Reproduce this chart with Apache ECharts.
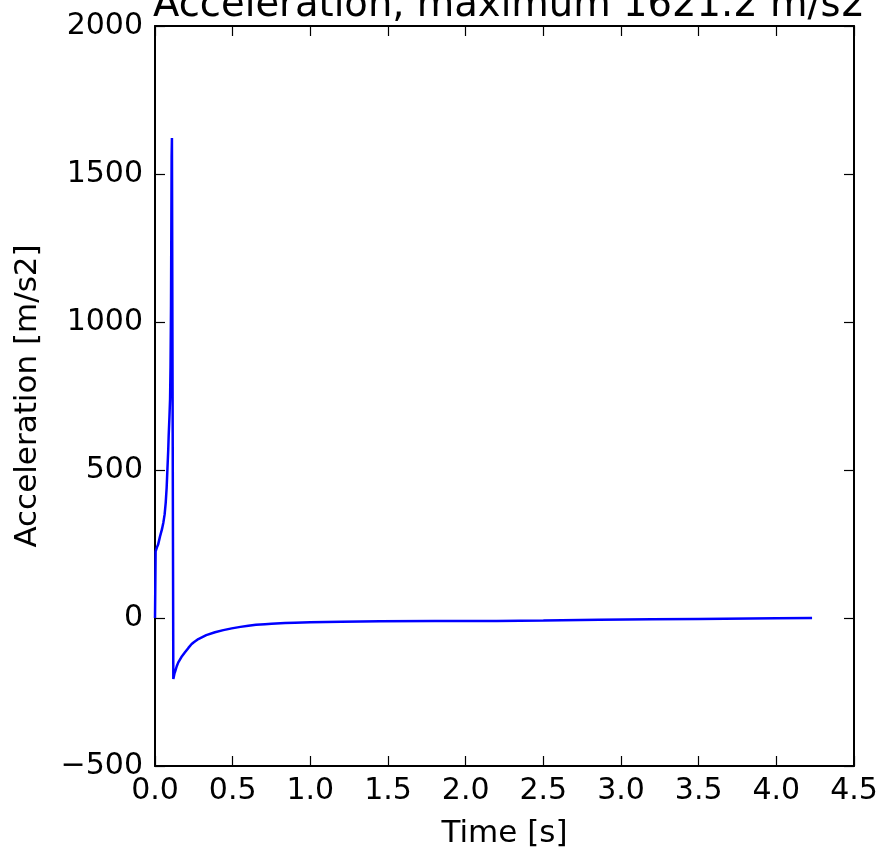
<!DOCTYPE html>
<html>
<head>
<meta charset="utf-8">
<script src="https://cdn.jsdelivr.net/npm/echarts@6/dist/echarts.min.js"></script>
<style>html,body{margin:0;padding:0;background:#fff;}#c{width:882px;height:854px;}</style>
</head>
<body>
<div id="c"></div>
<script>
const titleText = 'Acceleration, maximum 1621.2 m/s2';
const xLabel = 'Time [s]';
const yLabel = 'Acceleration [m/s2]';
const timeS = [0, 0.004, 0.012, 0.02, 0.032, 0.045, 0.054, 0.062, 0.069, 0.075, 0.08, 0.085, 0.088, 0.093, 0.097, 0.1, 0.103, 0.105, 0.107, 0.109,
  0.118, 0.125, 0.13, 0.14, 0.15, 0.17, 0.193, 0.215, 0.236, 0.25, 0.279, 0.33, 0.386, 0.44, 0.494, 0.55, 0.601, 0.65, 0.708, 0.75, 0.837, 0.9, 1.0, 1.2, 1.45, 1.8, 2.2, 2.5, 2.86, 3.2, 3.5, 4.0, 4.23];
const accel = [0, 225, 238, 248, 275, 300, 323, 350, 390, 440, 503, 565, 615, 680, 740, 850, 1050, 1300, 1560, 1621.2,
  -206, -188, -180, -163, -150, -132, -116, -101, -88, -82, -71, -58, -48, -41, -35, -30, -26, -23, -21, -19.5, -17, -16, -14.5, -12.5, -11, -10.5, -10, -8.5, -6, -4.3, -3.2, -1.2, 0];
const data = timeS.map((t, i) => [t, accel[i]]);
const font = 'DejaVu Sans';
const chart = echarts.init(document.getElementById('c'), null, {renderer: 'canvas'});
const axisBase = {
  axisLine: {show: true, onZero: false, lineStyle: {color: '#000', width: 2}},
  axisTick: {show: true, inside: true, length: 10, lineStyle: {color: '#000', width: 1.2}},
  splitLine: {show: false}
};
chart.setOption({
  animation: false,
  backgroundColor: '#fff',
  title: {text: titleText, left: 504, textAlign: 'center', top: -19, textStyle: {fontFamily: font, fontSize: 38.5, fontWeight: 'normal', color: '#000'}},
  grid: {left: 155, right: 28, top: 26, bottom: 87, containLabel: false},
  xAxis: [
    Object.assign({type: 'value', min: 0, max: 4.5, interval: 0.5, position: 'bottom',
      name: xLabel, nameLocation: 'middle', nameGap: 52,
      nameTextStyle: {fontFamily: font, fontSize: 31, color: '#000'},
      axisLabel: {fontFamily: font, fontSize: 30, color: '#000', margin: 10, formatter: v => v.toFixed(1)}}, axisBase),
    Object.assign({type: 'value', min: 0, max: 4.5, interval: 0.5, position: 'top', axisLabel: {show: false}}, axisBase)
  ],
  yAxis: [
    Object.assign({type: 'value', min: -500, max: 2000, interval: 500, position: 'left',
      name: yLabel, nameLocation: 'middle', nameGap: 112,
      nameTextStyle: {fontFamily: font, fontSize: 31, color: '#000'},
      axisLabel: {fontFamily: font, fontSize: 30, color: '#000', margin: 12, formatter: v => v < 0 ? '\u2212' + Math.abs(v) : String(v)}}, axisBase),
    Object.assign({type: 'value', min: -500, max: 2000, interval: 500, position: 'right', axisLabel: {show: false}}, axisBase)
  ],
  series: [{
    type: 'line', data: data, xAxisIndex: 0, yAxisIndex: 0,
    showSymbol: false, symbol: 'none',
    lineStyle: {color: '#0000ff', width: 2.5}
  }]
});
</script>
</body>
</html>
